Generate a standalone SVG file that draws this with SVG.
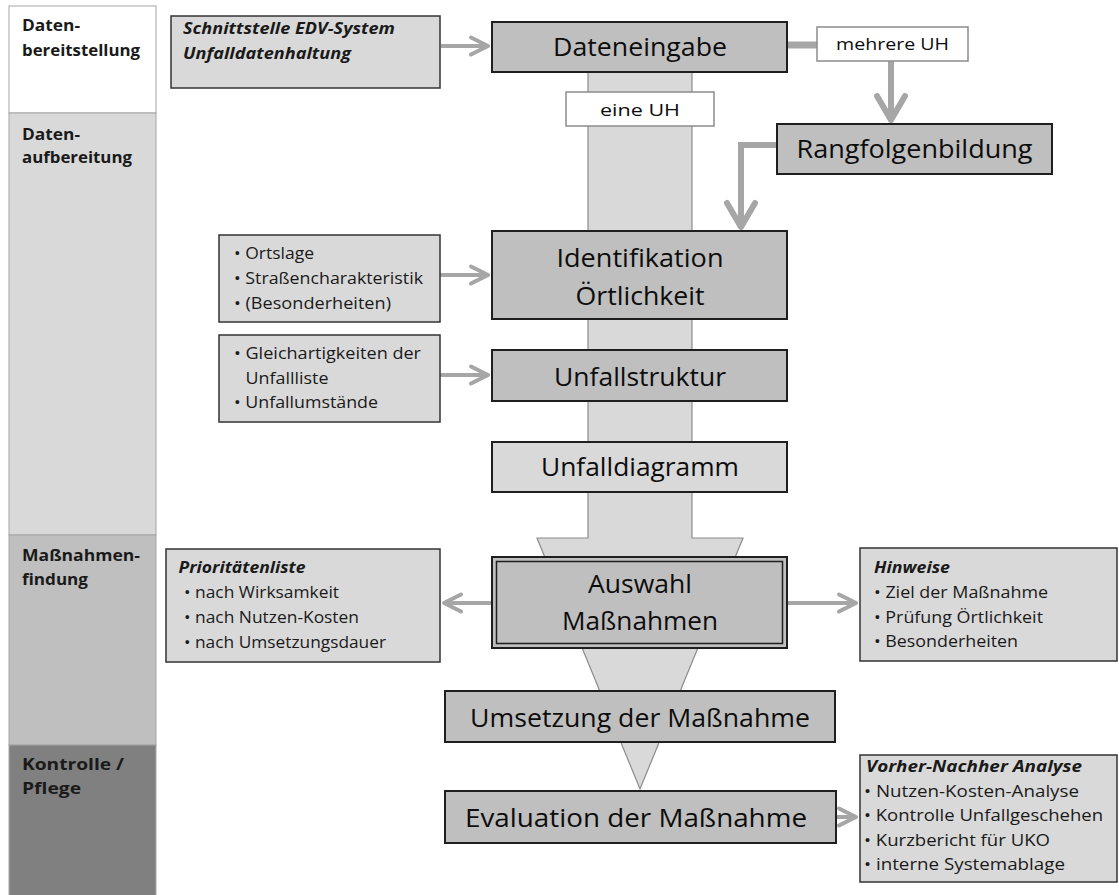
<svg xmlns="http://www.w3.org/2000/svg" width="1119" height="895" viewBox="0 0 1119 895">
<style>
text{font-family:"Open Sans","Liberation Sans",sans-serif}
.lbl{font-size:16px;font-weight:bold;fill:#1a1a1a}
.box{fill:#bfbfbf;stroke:#1f1f1f;stroke-width:2}
.lt{fill:#d9d9d9}
.info{fill:#d9d9d9;stroke:#333;stroke-width:1.5}
.tag{fill:#fff;stroke:#8c8c8c;stroke-width:1.5}
.big{font-size:26px;fill:#0d0d0d;text-anchor:middle}
.mid{font-size:17px;fill:#0d0d0d;text-anchor:middle}
.sm{font-size:16.5px;fill:#1a1a1a}
.bi{font-weight:bold;font-style:italic}
.con{fill:none;stroke:#a6a6a6;stroke-width:4}
.conb{fill:none;stroke:#a6a6a6;stroke-width:6}
</style>
<defs>
<marker id="ah" markerUnits="userSpaceOnUse" orient="auto" overflow="visible" refX="0" refY="0" markerWidth="1" markerHeight="1">
<path d="M-17,-8.5 L0,0 L-17,8.5" fill="none" stroke="#a6a6a6" stroke-width="4" stroke-linecap="round" stroke-linejoin="round"/>
</marker>
<marker id="ahb" markerUnits="userSpaceOnUse" orient="auto" overflow="visible" refX="0" refY="0" markerWidth="1" markerHeight="1">
<path d="M-24,-14 L0,0 L-24,14" fill="none" stroke="#a6a6a6" stroke-width="6" stroke-linecap="round" stroke-linejoin="round"/>
</marker>
</defs>

<g id="phases">
<rect x="9" y="6" width="147" height="107" fill="#ffffff" stroke="#a6a6a6"/>
<rect x="9" y="113" width="147" height="422" fill="#d9d9d9" stroke="#a6a6a6"/>
<rect x="9" y="535" width="147" height="210" fill="#bfbfbf" stroke="#a6a6a6"/>
<rect x="9" y="745" width="147" height="155" fill="#808080" stroke="#a6a6a6"/>
<text class="lbl" x="22" y="31" textLength="58" lengthAdjust="spacingAndGlyphs">Daten-</text>
<text class="lbl" x="22" y="56" textLength="118" lengthAdjust="spacingAndGlyphs">bereitstellung</text>
<text class="lbl" x="22" y="140" textLength="58" lengthAdjust="spacingAndGlyphs">Daten-</text>
<text class="lbl" x="22" y="163" textLength="110" lengthAdjust="spacingAndGlyphs">aufbereitung</text>
<text class="lbl" x="22" y="561" textLength="118" lengthAdjust="spacingAndGlyphs">Maßnahmen-</text>
<text class="lbl" x="22" y="585" textLength="66" lengthAdjust="spacingAndGlyphs">findung</text>
<text class="lbl" x="22" y="770" textLength="102" lengthAdjust="spacingAndGlyphs">Kontrolle /</text>
<text class="lbl" x="22" y="794" textLength="59" lengthAdjust="spacingAndGlyphs">Pflege</text>
</g>

<g id="flow-band">
<polygon points="588,72 692,72 692,538 743,538 640,789 537,538 588,538" fill="#d9d9d9" stroke="#8c8c8c" stroke-width="1.2"/>
</g>

<g id="connectors">
<path class="con" d="M441,46 H488" marker-end="url(#ah)"/>
<path class="con" d="M440,275 H488" marker-end="url(#ah)"/>
<path class="con" d="M440,375 H488" marker-end="url(#ah)"/>
<path class="con" d="M492,603 H444" marker-end="url(#ah)"/>
<path class="con" d="M787,603 H856" marker-end="url(#ah)"/>
<path class="con" d="M836,817 H856" marker-end="url(#ah)"/>
<path d="M787,45 H818" fill="none" stroke="#a6a6a6" stroke-width="7"/>
<path class="conb" d="M891,61 V120" marker-end="url(#ahb)"/>
<path class="conb" d="M777,145 H741 V227" stroke-linejoin="miter" marker-end="url(#ahb)"/>
</g>

<g id="schnittstelle">
<rect class="info" x="171" y="16" width="269" height="72"/>
<text class="sm bi" x="183" y="34" textLength="212" lengthAdjust="spacingAndGlyphs" fill="#262626">Schnittstelle EDV-System</text>
<text class="sm bi" x="183" y="59" textLength="168" lengthAdjust="spacingAndGlyphs" fill="#262626">Unfalldatenhaltung</text>
</g>

<g id="dateneingabe">
<rect class="box" x="492" y="22" width="295" height="50"/>
<text class="big" x="640" y="56" textLength="174" lengthAdjust="spacingAndGlyphs">Dateneingabe</text>
</g>

<g id="mehrere-uh">
<rect class="tag" x="817" y="27" width="151" height="34"/>
<text class="mid" x="892.5" y="50" textLength="113" lengthAdjust="spacingAndGlyphs">mehrere UH</text>
</g>

<g id="eine-uh">
<rect class="tag" x="566" y="92" width="148" height="34"/>
<text class="mid" x="640" y="116" textLength="80" lengthAdjust="spacingAndGlyphs">eine UH</text>
</g>

<g id="rangfolgenbildung">
<rect class="box" x="777" y="124" width="275" height="50"/>
<text class="big" x="914.5" y="158" textLength="236" lengthAdjust="spacingAndGlyphs">Rangfolgenbildung</text>
</g>

<g id="ortslage">
<rect class="info" x="219" y="235" width="221" height="87"/>
<text class="sm" x="234" y="259" textLength="80" lengthAdjust="spacingAndGlyphs">• Ortslage</text>
<text class="sm" x="234" y="284" textLength="189" lengthAdjust="spacingAndGlyphs">• Straßencharakteristik</text>
<text class="sm" x="234" y="309" textLength="157" lengthAdjust="spacingAndGlyphs">• (Besonderheiten)</text>
</g>

<g id="identifikation">
<rect class="box" x="492" y="231" width="295" height="88"/>
<text class="big" x="640" y="267" textLength="167" lengthAdjust="spacingAndGlyphs">Identifikation</text>
<text class="big" x="640" y="305" textLength="129" lengthAdjust="spacingAndGlyphs">Örtlichkeit</text>
</g>

<g id="gleichartigkeiten">
<rect class="info" x="219" y="335" width="221" height="87"/>
<text class="sm" x="234" y="359" textLength="187" lengthAdjust="spacingAndGlyphs">• Gleichartigkeiten der</text>
<text class="sm" x="245.5" y="384" textLength="83" lengthAdjust="spacingAndGlyphs">Unfallliste</text>
<text class="sm" x="234" y="408" textLength="144" lengthAdjust="spacingAndGlyphs">• Unfallumstände</text>
</g>

<g id="unfallstruktur">
<rect class="box" x="492" y="350" width="295" height="51"/>
<text class="big" x="640" y="386" textLength="172" lengthAdjust="spacingAndGlyphs">Unfallstruktur</text>
</g>

<g id="unfalldiagramm">
<rect class="box lt" x="492" y="442" width="295" height="50"/>
<text class="big" x="640" y="476" textLength="198" lengthAdjust="spacingAndGlyphs">Unfalldiagramm</text>
</g>

<g id="prioritaetenliste">
<rect class="info" x="166" y="549" width="274" height="113"/>
<text class="sm bi" x="178.5" y="573" textLength="127" lengthAdjust="spacingAndGlyphs">Prioritätenliste</text>
<text class="sm" x="184" y="598" textLength="155" lengthAdjust="spacingAndGlyphs">• nach Wirksamkeit</text>
<text class="sm" x="184" y="623" textLength="175" lengthAdjust="spacingAndGlyphs">• nach Nutzen-Kosten</text>
<text class="sm" x="184" y="648" textLength="202" lengthAdjust="spacingAndGlyphs">• nach Umsetzungsdauer</text>
</g>

<g id="auswahl">
<rect class="box" x="492" y="557" width="295" height="91"/>
<rect x="496.5" y="561.5" width="286" height="82" fill="none" stroke="#1f1f1f" stroke-width="1.5"/>
<text class="big" x="640" y="593" textLength="104" lengthAdjust="spacingAndGlyphs">Auswahl</text>
<text class="big" x="640" y="630" textLength="156" lengthAdjust="spacingAndGlyphs">Maßnahmen</text>
</g>

<g id="hinweise">
<rect class="info" x="860" y="548" width="257" height="113"/>
<text class="sm bi" x="874" y="573" textLength="76" lengthAdjust="spacingAndGlyphs">Hinweise</text>
<text class="sm" x="874" y="598" textLength="174" lengthAdjust="spacingAndGlyphs">• Ziel der Maßnahme</text>
<text class="sm" x="874" y="623" textLength="169" lengthAdjust="spacingAndGlyphs">• Prüfung Örtlichkeit</text>
<text class="sm" x="874" y="647" textLength="144" lengthAdjust="spacingAndGlyphs">• Besonderheiten</text>
</g>

<g id="umsetzung">
<rect class="box" x="445" y="691" width="390" height="51"/>
<text class="big" x="640" y="727" textLength="340" lengthAdjust="spacingAndGlyphs">Umsetzung der Maßnahme</text>
</g>

<g id="evaluation">
<rect class="box" x="445" y="791" width="391" height="52"/>
<text class="big" x="636" y="827" textLength="342" lengthAdjust="spacingAndGlyphs">Evaluation der Maßnahme</text>
</g>

<g id="vorher-nachher">
<rect class="info" x="860" y="755" width="257" height="127"/>
<text class="sm bi" x="866" y="772" textLength="216" lengthAdjust="spacingAndGlyphs">Vorher-Nachher Analyse</text>
<text class="sm" x="864" y="797" textLength="215" lengthAdjust="spacingAndGlyphs">• Nutzen-Kosten-Analyse</text>
<text class="sm" x="864" y="821" textLength="239" lengthAdjust="spacingAndGlyphs">• Kontrolle Unfallgeschehen</text>
<text class="sm" x="864" y="846" textLength="186" lengthAdjust="spacingAndGlyphs">• Kurzbericht für UKO</text>
<text class="sm" x="864" y="870" textLength="201" lengthAdjust="spacingAndGlyphs">• interne Systemablage</text>
</g>
</svg>
